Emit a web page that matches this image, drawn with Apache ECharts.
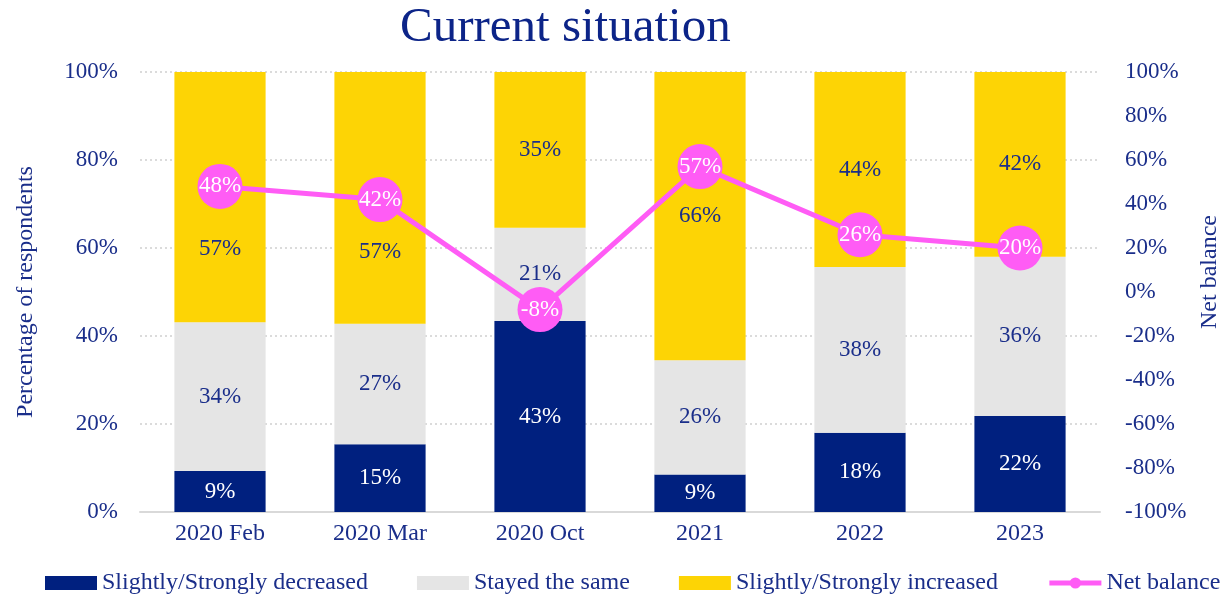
<!DOCTYPE html>
<html>
<head>
<meta charset="utf-8">
<script src="https://cdn.jsdelivr.net/npm/echarts@6/dist/echarts.min.js"></script>
<style>
  html, body { margin: 0; padding: 0; background: #fff; }
  #chart { width: 1224px; height: 596px; }
</style>
</head>
<body>
<div id="chart"></div>
<script>
const categories = ['2020 Feb', '2020 Mar', '2020 Oct', '2021', '2022', '2023'];
const decreased = [9.3, 15.4, 43.4, 8.5, 18.0, 21.8];
const stayedSame = [33.8, 27.4, 21.2, 26.0, 37.7, 36.2];
const increased = [56.9, 57.2, 35.4, 65.5, 44.3, 42.0];
const netBalance = [48, 42, -8, 57, 26, 20];

// labels in the first two yellow bars are pushed down, clear of the markers
const increasedLabelShift = [52, 54, 0, 0, 0, 0];

const navy = '#00207f';
const pink = '#ff5cf5';
const textColor = '#1a2e8a';
const font = '"Liberation Serif", "Times New Roman", serif';

const pct = p => Math.round(p.value) + '%';

const chart = echarts.init(document.getElementById('chart'));

const option = {
  animation: false,
  textStyle: { fontFamily: font, color: textColor },
  title: {
    text: 'Current situation',
    left: 395,
    top: -1,
    textStyle: { fontFamily: font, fontSize: 49, fontWeight: 'normal', color: '#0c2488' }
  },
  legend: {
    top: 566,
    left: 40,
    width: 1184,
    itemWidth: 52,
    itemHeight: 14,
    itemGap: 49,
    textStyle: { fontFamily: font, fontSize: 24, color: textColor },
    data: [
      { name: 'Slightly/Strongly decreased', icon: 'rect' },
      { name: 'Stayed the same', icon: 'rect' },
      { name: 'Slightly/Strongly increased', icon: 'rect' },
      { name: 'Net balance', lineStyle: { width: 5 } }
    ]
  },
  grid: { left: 140, right: 124, top: 72, bottom: 84, outerBoundsMode: 'none' },
  xAxis: {
    type: 'category',
    data: categories,
    axisTick: { show: false },
    axisLine: { lineStyle: { color: '#d9d9d9', width: 2 } },
    axisLabel: { fontFamily: font, fontSize: 24, color: textColor, margin: 10 }
  },
  yAxis: [
    {
      type: 'value',
      min: 0, max: 100, interval: 20,
      name: 'Percentage of respondents',
      nameLocation: 'middle',
      nameGap: 102,
      nameTextStyle: { fontFamily: font, fontSize: 24, color: textColor },
      axisLabel: { formatter: '{value}%', fontFamily: font, fontSize: 23, color: textColor, margin: 22 },
      splitLine: { lineStyle: { color: '#d0d0d0', type: [2, 3], width: 1.5 } },
      axisLine: { show: false },
      axisTick: { show: false }
    },
    {
      type: 'value',
      min: -100, max: 100, interval: 20,
      name: 'Net balance',
      nameLocation: 'middle',
      nameGap: 98,
      nameRotate: 90,
      nameTextStyle: { fontFamily: font, fontSize: 24, color: textColor, padding: [0, 0, 0, 40] },
      axisLabel: { formatter: '{value}%', fontFamily: font, fontSize: 23, color: textColor, margin: 25 },
      splitLine: { show: false },
      axisLine: { show: false },
      axisTick: { show: false }
    }
  ],
  series: [
    {
      name: 'Slightly/Strongly decreased',
      type: 'bar',
      stack: 'total',
      barWidth: '57%',
      data: decreased,
      itemStyle: { color: navy },
      label: { show: true, position: 'inside', formatter: pct, fontFamily: font, fontSize: 23, color: '#ffffff' }
    },
    {
      name: 'Stayed the same',
      type: 'bar',
      stack: 'total',
      data: stayedSame,
      itemStyle: { color: '#e5e5e5' },
      label: { show: true, position: 'inside', formatter: pct, fontFamily: font, fontSize: 23, color: textColor }
    },
    {
      name: 'Slightly/Strongly increased',
      type: 'bar',
      stack: 'total',
      data: increased.map((v, i) => ({ value: v, label: { offset: [0, increasedLabelShift[i]] } })),
      itemStyle: { color: '#fdd405' },
      label: { show: true, position: 'inside', formatter: pct, fontFamily: font, fontSize: 23, color: textColor }
    },
    {
      name: 'Net balance',
      type: 'line',
      yAxisIndex: 1,
      data: netBalance,
      symbol: 'circle',
      symbolSize: 45,
      z: 5,
      lineStyle: { color: pink, width: 5 },
      itemStyle: { color: pink },
      label: { show: true, position: 'inside', formatter: '{c}%', fontFamily: font, fontSize: 23, color: '#ffffff' }
    }
  ]
};

chart.setOption(option);
</script>
</body>
</html>
